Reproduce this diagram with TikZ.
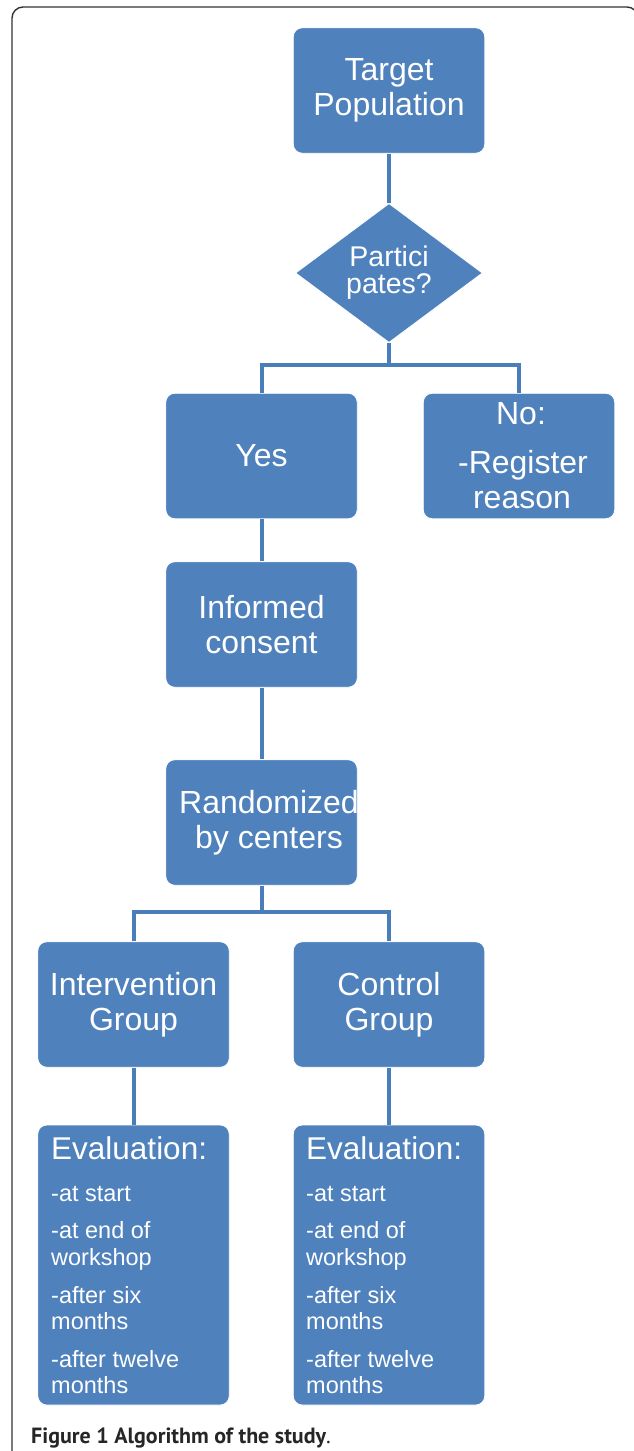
\documentclass[tikz,border=0pt]{standalone}
\usepackage{fontspec}
\setmainfont{Liberation Sans}
\newfontfamily\capfont{PT Sans}
\usetikzlibrary{shapes.geometric}
\definecolor{boxblue}{HTML}{4F81BD}
\definecolor{lineblue}{HTML}{4A7EBB}
\definecolor{framec}{HTML}{333333}
\tikzset{
  flowbox/.style={rectangle, rounded corners=9pt, fill=boxblue, draw=white, line width=0.8pt,
    minimum width=191.5pt, minimum height=125.5pt, text=white, align=center, inner sep=0pt,
    font=\fontsize{32}{35.5}\selectfont},
  decbox/.style={diamond, fill=boxblue, draw=white, line width=0.8pt,
    minimum width=187pt, minimum height=126pt, text=white, align=center, inner sep=0pt,
    font=\fontsize{28.5}{27}\selectfont},
  evaltext/.style={anchor=north west, inner sep=0pt, text=white, align=left,
    font=\fontsize{23.5}{26.5}\selectfont},
  conn/.style={draw=lineblue, line width=4pt},
}
\begin{document}
\begin{tikzpicture}[x=1pt,y=-1pt]
\useasboundingbox (0,0) rectangle (633,1451);
% frame
\draw[framec, line width=1.4pt, rounded corners=11pt] (12,1470) -- (12,7) -- (638,7) -- (638,1470);
% nodes
\node[flowbox] (tp) at (389,90.5) {Target\\Population};
\node[decbox] (dia) at (389,273) {Partici\\pates?};
\node[flowbox] (yes) at (261.5,456) {Yes};
\node[flowbox] (no) at (519,456) {\hspace*{4pt}No:\\[13pt]\hspace*{8pt}-Register\\\hspace*{6pt}reason};
\node[flowbox] (ic) at (261.5,624.5) {Informed\\consent};
\node[flowbox] (rand) at (261.5,822.5) {};
\begin{scope}
  \clip[rounded corners=9pt] (rand.south west) rectangle (rand.north east);
  \node[text=white, align=center, inner sep=0pt, font=\fontsize{32}{35.5}\selectfont] (randtxt) at (269,822.5) {Randomized\\by centers};
\end{scope}
\node[flowbox] (ig) at (133.5,1004.5) {Intervention\\Group};
\node[flowbox] (cg) at (389,1004.5) {Control\\Group};
\node[flowbox, minimum height=280pt] (ev1) at (133.5,1265) {};
\node[flowbox, minimum height=280pt] (ev2) at (389,1265) {};
\node[evaltext] (ev1t) at (51,1136) {{\fontsize{31.5}{31.5}\selectfont Evaluation:}\\[16pt]-at start\\[10.5pt]-at end of\\workshop\\[11.5pt]-after six\\months\\[11pt]-after twelve\\months};
\node[evaltext] (ev2t) at (306,1136) {{\fontsize{31.5}{31.5}\selectfont Evaluation:}\\[16pt]-at start\\[10.5pt]-at end of\\workshop\\[11.5pt]-after six\\months\\[11pt]-after twelve\\months};
% caption
\node[anchor=base west, inner sep=0pt, font=\capfont\fontsize{22}{25}\selectfont, text=black!85] (cap) at (31,1443) {\textbf{Figure 1 Algorithm of the study}.};
% connectors
\coordinate (s1) at (389,365);
\coordinate (s2) at (261.5,912);
\draw[conn] (tp.south) -- (dia.north);
\draw[conn] (dia.south) -- (s1);
\draw[conn] (yes.north) |- (s1) -| (no.north);
\draw[conn] (yes.south) -- (ic.north);
\draw[conn] (ic.south) -- (rand.north);
\draw[conn] (rand.south) -- (s2);
\draw[conn] (ig.north) |- (s2) -| (cg.north);
\draw[conn] (ig.south) -- (ev1.north);
\draw[conn] (cg.south) -- (ev2.north);
\end{tikzpicture}
\end{document}
